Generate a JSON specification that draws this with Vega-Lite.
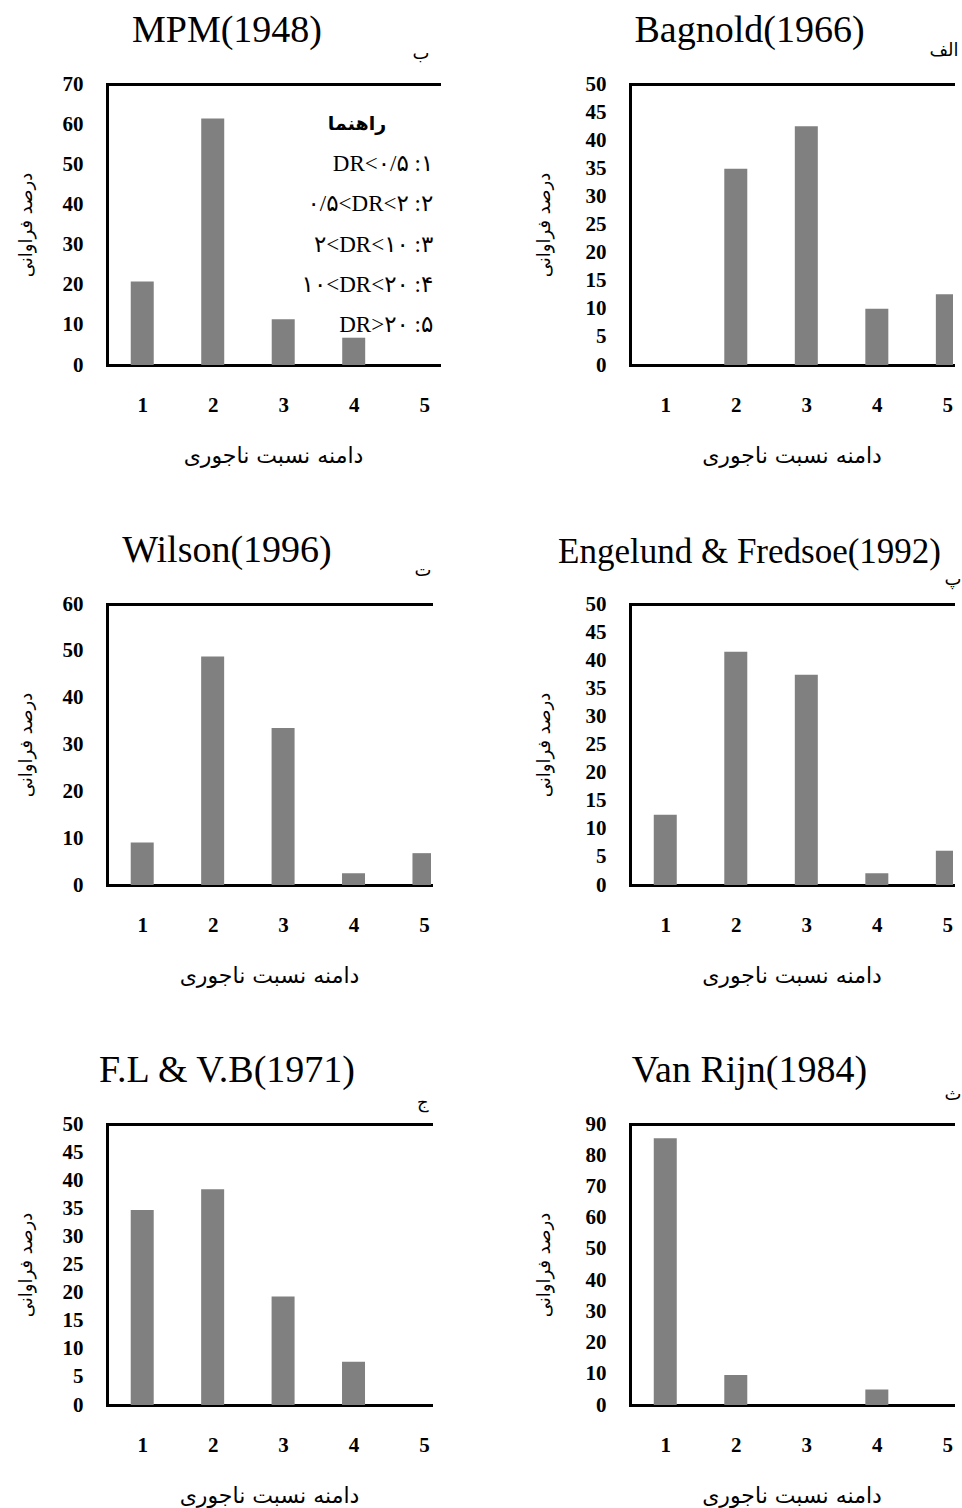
{
  "$schema": "https://vega.github.io/schema/vega-lite/v6.json",
  "background": "white",
  "padding": {"left": 17, "top": 12, "right": 5, "bottom": 5},
  "datasets": {
    "mpm": [{"cat": 1, "pct": 20.8}, {"cat": 2, "pct": 61.4}, {"cat": 3, "pct": 11.4}, {"cat": 4, "pct": 6.8}, {"cat": 5, "pct": 0}],
    "bagnold": [{"cat": 1, "pct": 0}, {"cat": 2, "pct": 34.9}, {"cat": 3, "pct": 42.5}, {"cat": 4, "pct": 10.0}, {"cat": 5, "pct": 12.6}],
    "wilson": [{"cat": 1, "pct": 9.1}, {"cat": 2, "pct": 48.8}, {"cat": 3, "pct": 33.5}, {"cat": 4, "pct": 2.5}, {"cat": 5, "pct": 6.8}],
    "engelund": [{"cat": 1, "pct": 12.5}, {"cat": 2, "pct": 41.5}, {"cat": 3, "pct": 37.4}, {"cat": 4, "pct": 2.1}, {"cat": 5, "pct": 6.1}],
    "flvb": [{"cat": 1, "pct": 34.7}, {"cat": 2, "pct": 38.4}, {"cat": 3, "pct": 19.3}, {"cat": 4, "pct": 7.7}, {"cat": 5, "pct": 0}],
    "vanrijn": [{"cat": 1, "pct": 85.4}, {"cat": 2, "pct": 9.6}, {"cat": 3, "pct": 0}, {"cat": 4, "pct": 5.0}, {"cat": 5, "pct": 0}],
    "guideTitle": [{"k": 0, "txt": "راهنما"}],
    "guideItems": [
      {"k": 1, "txt": "DR<۰/۵ :۱"},
      {"k": 2, "txt": "۰/۵<DR<۲ :۲"},
      {"k": 3, "txt": "۲<DR<۱۰ :۳"},
      {"k": 4, "txt": "۱۰<DR<۲۰ :۴"},
      {"k": 5, "txt": "DR>۲۰ :۵"}
    ]
  },
  "bounds": "flush",
  "columns": 2,
  "spacing": {"row": 239, "column": 191},
  "resolve": {"scale": {"x": "independent", "y": "independent"}, "axis": {"x": "independent", "y": "independent"}},
  "concat": [
    {
      "width": 332, "height": 281,
      "title": {"text": "MPM(1948)", "dx": -46, "offset": -6},
      "layer": [
        {"data": {"name": "mpm"}, "mark": {"type": "bar", "color": "#808080", "width": 23, "clip": true},
         "encoding": {
           "x": {"field": "cat", "type": "quantitative", "scale": {"domain": [0.5, 5.21]}, "axis": {"values": [1, 2, 3, 4, 5], "title": "دامنه نسبت ناجوری"}},
           "y": {"field": "pct", "type": "quantitative", "scale": {"domain": [0, 70]}, "axis": {"values": [0, 10, 20, 30, 40, 50, 60, 70], "title": "درصد فراوانی"}}
         }},
        {"data": {"name": "mpm"}, "mark": {"type": "bar", "opacity": 0, "width": 23, "clip": true},
         "encoding": {
           "x": {"field": "cat", "type": "quantitative", "scale": {"domain": [0.5, 5.21]}, "axis": {"orient": "top", "labels": false, "title": "ب", "titleX": 322, "titlePadding": 22}},
           "y": {"field": "pct", "type": "quantitative", "scale": {"domain": [0, 70]}, "axis": null}
         }},
        {"data": {"name": "guideTitle"}, "mark": {"type": "text", "align": "right", "baseline": "middle", "font": "DejaVu Sans", "fontWeight": "bold", "fontSize": 19, "color": "#000000"},
         "encoding": {
           "x": {"datum": 4.46, "type": "quantitative", "scale": {"domain": [0.5, 5.21]}, "axis": null},
           "y": {"field": "k", "type": "ordinal", "scale": {"type": "point", "domain": [0, 1, 2, 3, 4, 5], "padding": 1}, "axis": null},
           "text": {"field": "txt"}
         }},
        {"data": {"name": "guideItems"}, "mark": {"type": "text", "align": "right", "baseline": "middle", "font": "Liberation Serif, DejaVu Sans", "fontSize": 23, "color": "#000000"},
         "encoding": {
           "x": {"datum": 5.13, "type": "quantitative", "scale": {"domain": [0.5, 5.21]}, "axis": null},
           "y": {"field": "k", "type": "ordinal", "scale": {"type": "point", "domain": [0, 1, 2, 3, 4, 5], "padding": 1}, "axis": null},
           "text": {"field": "txt"}
         }}
      ],
      "resolve": {"axis": {"x": "independent"}, "scale": {"y": "independent"}}
    },
    {
      "width": 323, "height": 281,
      "title": {"text": "Bagnold(1966)", "dx": -42, "offset": -9},
      "layer": [
        {"data": {"name": "bagnold"}, "mark": {"type": "bar", "color": "#808080", "width": 23, "clip": true},
         "encoding": {
           "x": {"field": "cat", "type": "quantitative", "scale": {"domain": [0.5, 5.08]}, "axis": {"values": [1, 2, 3, 4, 5], "title": "دامنه نسبت ناجوری"}},
           "y": {"field": "pct", "type": "quantitative", "scale": {"domain": [0, 50]}, "axis": {"values": [0, 5, 10, 15, 20, 25, 30, 35, 40, 45, 50], "title": "درصد فراوانی", "titlePadding": 32}}
         }},
        {"data": {"name": "bagnold"}, "mark": {"type": "bar", "opacity": 0, "width": 23, "clip": true},
         "encoding": {
           "x": {"field": "cat", "type": "quantitative", "scale": {"domain": [0.5, 5.08]}, "axis": {"orient": "top", "labels": false, "title": "الف", "titleX": 328, "titlePadding": 25}},
           "y": {"field": "pct", "type": "quantitative", "scale": {"domain": [0, 50]}, "axis": {"values": [0, 5, 10, 15, 20, 25, 30, 35, 40, 45, 50], "title": "درصد فراوانی", "titlePadding": 32}}
         }}
      ],
      "resolve": {"axis": {"x": "independent"}}
    },
    {
      "width": 324, "height": 281,
      "title": {"text": "Wilson(1996)", "dx": -42, "offset": -9},
      "layer": [
        {"data": {"name": "wilson"}, "mark": {"type": "bar", "color": "#808080", "width": 23, "clip": true},
         "encoding": {
           "x": {"field": "cat", "type": "quantitative", "scale": {"domain": [0.5, 5.1]}, "axis": {"values": [1, 2, 3, 4, 5], "title": "دامنه نسبت ناجوری"}},
           "y": {"field": "pct", "type": "quantitative", "scale": {"domain": [0, 60]}, "axis": {"values": [0, 10, 20, 30, 40, 50, 60], "title": "درصد فراوانی"}}
         }},
        {"data": {"name": "wilson"}, "mark": {"type": "bar", "opacity": 0, "width": 23, "clip": true},
         "encoding": {
           "x": {"field": "cat", "type": "quantitative", "scale": {"domain": [0.5, 5.1]}, "axis": {"orient": "top", "labels": false, "title": "ت", "titleX": 324, "titlePadding": 25}},
           "y": {"field": "pct", "type": "quantitative", "scale": {"domain": [0, 60]}, "axis": {"values": [0, 10, 20, 30, 40, 50, 60], "title": "درصد فراوانی"}}
         }}
      ],
      "resolve": {"axis": {"x": "independent"}}
    },
    {
      "width": 323, "height": 281,
      "title": {"text": "Engelund & Fredsoe(1992)", "dx": -42, "offset": 0, "fontSize": 35},
      "layer": [
        {"data": {"name": "engelund"}, "mark": {"type": "bar", "color": "#808080", "width": 23, "clip": true},
         "encoding": {
           "x": {"field": "cat", "type": "quantitative", "scale": {"domain": [0.5, 5.08]}, "axis": {"values": [1, 2, 3, 4, 5], "title": "دامنه نسبت ناجوری"}},
           "y": {"field": "pct", "type": "quantitative", "scale": {"domain": [0, 50]}, "axis": {"values": [0, 5, 10, 15, 20, 25, 30, 35, 40, 45, 50], "title": "درصد فراوانی", "titlePadding": 32}}
         }},
        {"data": {"name": "engelund"}, "mark": {"type": "bar", "opacity": 0, "width": 23, "clip": true},
         "encoding": {
           "x": {"field": "cat", "type": "quantitative", "scale": {"domain": [0.5, 5.08]}, "axis": {"orient": "top", "labels": false, "title": "پ", "titleX": 331, "titlePadding": 16}},
           "y": {"field": "pct", "type": "quantitative", "scale": {"domain": [0, 50]}, "axis": {"values": [0, 5, 10, 15, 20, 25, 30, 35, 40, 45, 50], "title": "درصد فراوانی", "titlePadding": 32}}
         }}
      ],
      "resolve": {"axis": {"x": "independent"}}
    },
    {
      "width": 324, "height": 281,
      "title": {"text": "F.L & V.B(1971)", "dx": -42, "offset": 3},
      "layer": [
        {"data": {"name": "flvb"}, "mark": {"type": "bar", "color": "#808080", "width": 23, "clip": true},
         "encoding": {
           "x": {"field": "cat", "type": "quantitative", "scale": {"domain": [0.5, 5.1]}, "axis": {"values": [1, 2, 3, 4, 5], "title": "دامنه نسبت ناجوری"}},
           "y": {"field": "pct", "type": "quantitative", "scale": {"domain": [0, 50]}, "axis": {"values": [0, 5, 10, 15, 20, 25, 30, 35, 40, 45, 50], "title": "درصد فراوانی"}}
         }},
        {"data": {"name": "flvb"}, "mark": {"type": "bar", "opacity": 0, "width": 23, "clip": true},
         "encoding": {
           "x": {"field": "cat", "type": "quantitative", "scale": {"domain": [0.5, 5.1]}, "axis": {"orient": "top", "labels": false, "title": "ج", "titleX": 321, "titlePadding": 13}},
           "y": {"field": "pct", "type": "quantitative", "scale": {"domain": [0, 50]}, "axis": {"values": [0, 5, 10, 15, 20, 25, 30, 35, 40, 45, 50], "title": "درصد فراوانی"}}
         }}
      ],
      "resolve": {"axis": {"x": "independent"}}
    },
    {
      "width": 323, "height": 281,
      "title": {"text": "Van Rijn(1984)", "dx": -42, "offset": -5},
      "layer": [
        {"data": {"name": "vanrijn"}, "mark": {"type": "bar", "color": "#808080", "width": 23, "clip": true},
         "encoding": {
           "x": {"field": "cat", "type": "quantitative", "scale": {"domain": [0.5, 5.08]}, "axis": {"values": [1, 2, 3, 4, 5], "title": "دامنه نسبت ناجوری"}},
           "y": {"field": "pct", "type": "quantitative", "scale": {"domain": [0, 90]}, "axis": {"values": [0, 10, 20, 30, 40, 50, 60, 70, 80, 90], "title": "درصد فراوانی", "titlePadding": 32}}
         }},
        {"data": {"name": "vanrijn"}, "mark": {"type": "bar", "opacity": 0, "width": 23, "clip": true},
         "encoding": {
           "x": {"field": "cat", "type": "quantitative", "scale": {"domain": [0.5, 5.08]}, "axis": {"orient": "top", "labels": false, "title": "ث", "titleX": 331, "titlePadding": 21}},
           "y": {"field": "pct", "type": "quantitative", "scale": {"domain": [0, 90]}, "axis": {"values": [0, 10, 20, 30, 40, 50, 60, 70, 80, 90], "title": "درصد فراوانی", "titlePadding": 32}}
         }}
      ],
      "resolve": {"axis": {"x": "independent"}}
    }
  ],
  "config": {
    "view": {"stroke": null},
    "scale": {"continuousPadding": 0},
    "axis": {
      "domainColor": "#000000", "domainWidth": 3, "domainCap": "square",
      "ticks": false, "tickSize": 0, "grid": false, "labelOverlap": false,
      "labelFont": "Liberation Serif", "labelFontSize": 21, "labelFontWeight": "bold", "labelColor": "#000000", "labelFlush": false,
      "titleFont": "DejaVu Sans", "titleFontWeight": "normal", "titleColor": "#000000"
    },
    "axisBottom": {"labelPadding": 29, "titlePadding": 30, "titleFontSize": 22, "labelAngle": 0},
    "axisLeft": {"labelPadding": 24, "titlePadding": 27, "titleFontSize": 18},
    "axisTop": {"titleFontSize": 18, "titleAnchor": "end", "titleAlign": "right", "titleBaseline": "bottom"},
    "title": {"font": "Liberation Serif", "fontSize": 38, "fontWeight": "normal", "color": "#000000", "anchor": "middle", "frame": "group", "baseline": "alphabetic"}
  }
}
